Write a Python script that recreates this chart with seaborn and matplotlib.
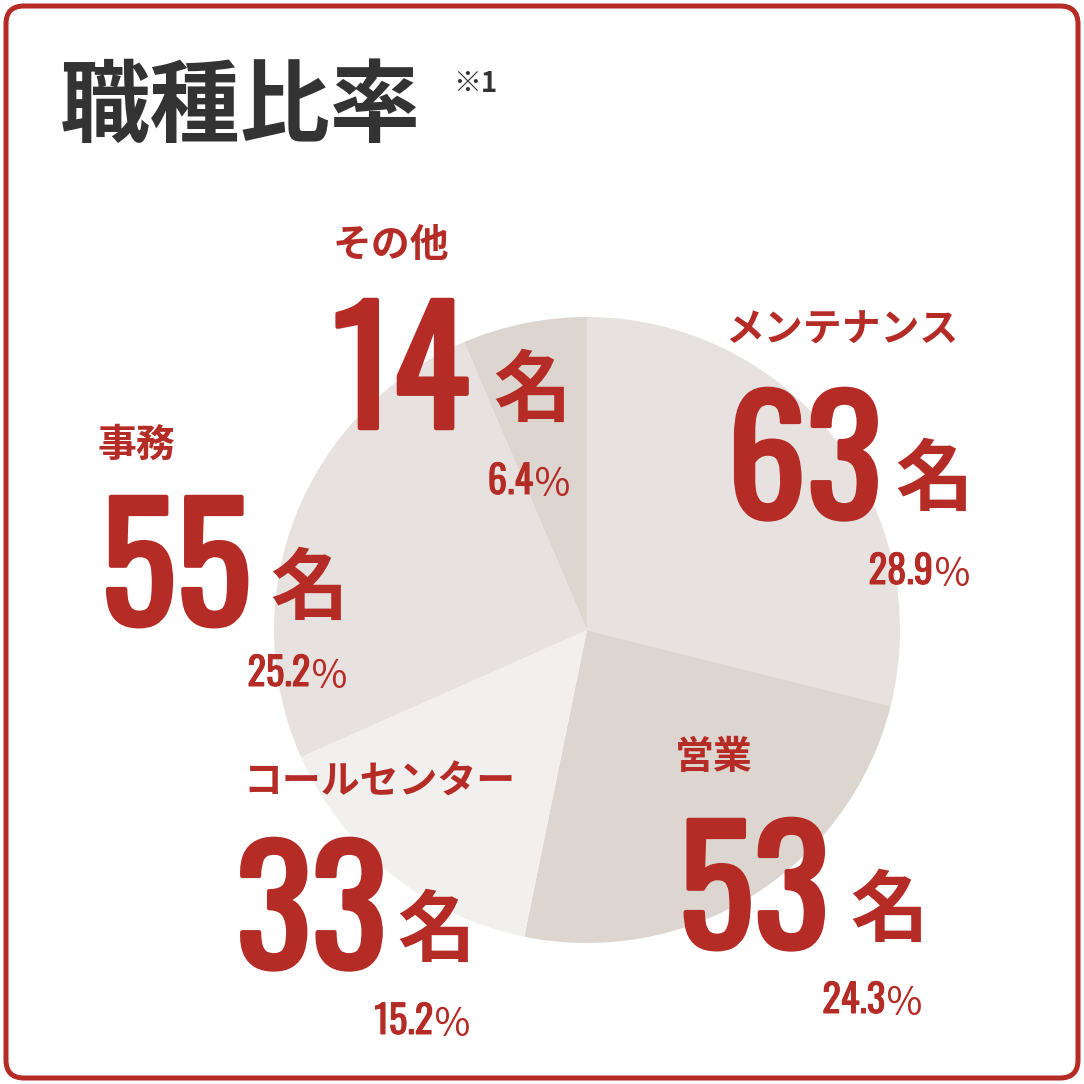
import matplotlib
matplotlib.use("Agg")
import matplotlib.pyplot as plt
import matplotlib.font_manager as fm
import matplotlib.patheffects as pe
from matplotlib.font_manager import FontProperties
from matplotlib.textpath import TextPath
from matplotlib.patches import FancyBboxPatch
import seaborn as sns

# ---- data ----
categories = ["メンテナンス", "営業", "コールセンター", "事務", "その他"]
counts = [63, 53, 33, 55, 14]
percents = [28.9, 24.3, 15.2, 25.2, 6.4]
title = "職種比率"
note = "※1"
unit = "名"
pct_sign = "％"

# ---- styles ----
slice_colors = ["#e7e2df", "#ddd5d0", "#f2f0ee", "#e7e2df", "#ddd5d0"]
RED = "#b52b25"
DARK = "#333333"

sns.set_theme(style="white")
CJK = "Noto Sans CJK JP"
plt.rcParams["font.family"] = [CJK, "DejaVu Sans"]

WEIGHTS = {"bold": 700, "black": 900, "heavy": 900, "semibold": 600, "demibold": 600,
           "normal": 400, "regular": 400, "medium": 500, "light": 300}


def wnum(v):
    return v if isinstance(v, (int, float)) else WEIGHTS.get(str(v), 400)


def pick_num_font():
    prefs = ["Oswald", "Roboto Condensed", "Barlow Condensed", "Fjalla One", "Antonio",
             "Archivo Narrow", "PT Sans Narrow", "Liberation Sans Narrow", "Roboto"]
    for p in prefs:
        ents = [f for f in fm.fontManager.ttflist if f.name == p and f.style == "normal"]
        if ents:
            f = min(ents, key=lambda e: abs(wnum(e.weight) - 700))
            return FontProperties(fname=f.fname), wnum(f.weight)
    return FontProperties(family="DejaVu Sans", weight="bold"), 700


num_fp, num_w = pick_num_font()
fake_bold = num_w < 600
_h = TextPath((0, 0), "0123456789", size=100, prop=num_fp).get_extents().height


def num_size(px):  # font size (pt) giving digit ink height of px pixels at 100 dpi
    return px * 0.72 * 100 / _h


def embolden(lw):
    if not fake_bold:
        return []
    return [pe.withStroke(linewidth=lw, foreground=RED)]


W = H = 1084
fig = plt.figure(figsize=(W / 100, H / 100), dpi=100)
fig.patch.set_facecolor("white")
ax = fig.add_axes([0, 0, 1, 1])


def Y(y):  # pixel-from-top -> data y
    return H - y


ax.pie(counts, startangle=90, counterclock=False, colors=slice_colors,
       radius=313, center=(587, Y(630)), wedgeprops=dict(linewidth=0))
ax.set_xlim(0, W)
ax.set_ylim(0, H)
ax.set_aspect("equal")
ax.axis("off")

border = FancyBboxPatch((6, 6), W - 12, H - 12,
                        boxstyle="round,pad=0,rounding_size=18",
                        linewidth=3.6, edgecolor=RED, facecolor="none",
                        transform=ax.transData, zorder=5)
ax.add_patch(border)

ax.text(60, Y(108), title, fontsize=65, fontweight="bold", color=DARK,
        ha="left", va="center", family=[CJK])
ax.text(453, Y(84), note, fontsize=20, fontweight="bold", color=DARK,
        ha="left", va="center", family=[CJK])

label_pos = [(725, 330), (675, 757), (243, 782), (98, 445), (333, 245)]
num_pos = [(882, 518), (829, 948), (387, 968), (251, 625), (469, 428)]   # right edge, baseline
unit_pos = [(895, 481), (850, 912), (397, 932), (270, 590), (493, 392)]
pct_pos = [(972, 583), (924, 1012), (472, 1033), (349, 685), (572, 493)]

big_stroke = 3.2     # points
small_stroke = 0.7
big = num_size(135 - big_stroke * 100 / 72)
small = num_size(33 - small_stroke * 100 / 72)
renderer = fig.canvas.get_renderer()

for i, cat in enumerate(categories):
    lx, ly = label_pos[i]
    ax.text(lx, Y(ly), cat, fontsize=28, fontweight="bold", color=RED,
            ha="left", va="center", family=[CJK])
    nx, ny = num_pos[i]
    ax.text(nx, Y(ny), f"{counts[i]}", fontproperties=num_fp, fontsize=big,
            color=RED, ha="right", va="baseline", path_effects=embolden(big_stroke))
    ux, uy = unit_pos[i]
    ax.text(ux, Y(uy), unit, fontsize=56, fontweight="bold", color=RED,
            ha="left", va="center", family=[CJK])
    px, py = pct_pos[i]
    ps = ax.text(px, Y(py) - 3, pct_sign, fontsize=28, color=RED,
                 ha="right", va="baseline", family=[CJK])
    x0 = ps.get_window_extent(renderer).x0
    ax.text(x0, Y(py) - 1, f"{percents[i]:.1f}", fontproperties=num_fp, fontsize=small,
            color=RED, ha="right", va="baseline", path_effects=embolden(small_stroke))

fig.savefig("out.png", dpi=100, facecolor="white")
